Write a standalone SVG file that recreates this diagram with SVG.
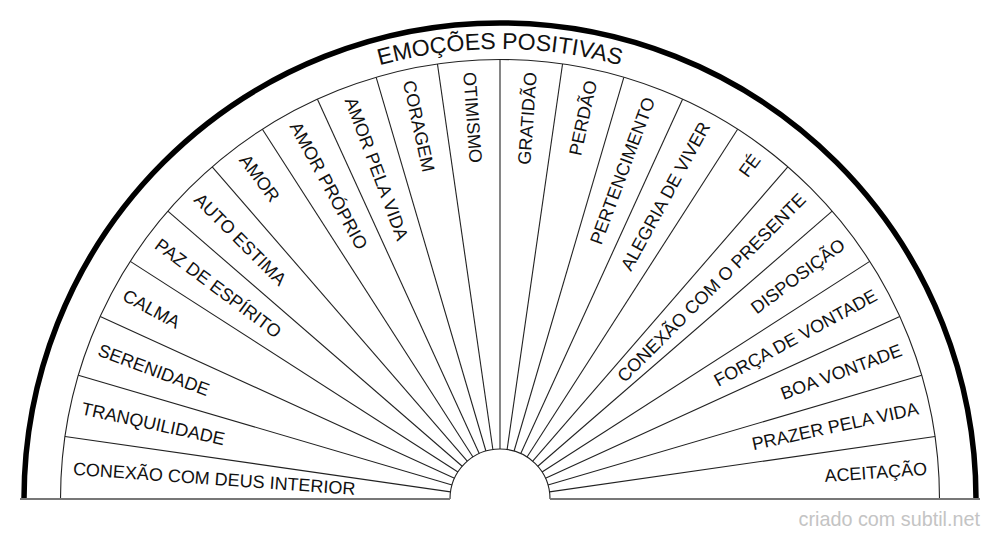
<svg xmlns="http://www.w3.org/2000/svg" xmlns:xlink="http://www.w3.org/1999/xlink" width="1000" height="540" viewBox="0 0 1000 540">
<style>
.lbl{font-family:"Liberation Sans",Arial,sans-serif;font-size:18px;fill:#111}
.div{stroke:#222;stroke-width:1.1;fill:none}
.title{font-family:"Liberation Sans",Arial,sans-serif;font-size:23px;fill:#111}
.foot{font-family:"Liberation Sans",Arial,sans-serif;font-size:19.8px;fill:#c4c4c4}
</style>
<defs>
<path id="titlePath" d="M 50 499 A 450 450 0 0 1 950 499"/>
</defs>
<rect width="1000" height="540" fill="#fff"/>
<g id="frame">
<path d="M 24 499 A 476 476 0 0 1 976 499" fill="none" stroke="#000" stroke-width="5.5"/>
<path d="M 60.5 499 A 439.5 439.5 0 0 1 939.5 499" fill="none" stroke="#222" stroke-width="1.1"/>
<path d="M 450 499 A 50 50 0 0 1 550 499" fill="#fff" stroke="#222" stroke-width="1.1"/>
<line x1="20" y1="499" x2="450" y2="499" stroke="#777" stroke-width="2"/>
<line x1="550" y1="499" x2="980" y2="499" stroke="#777" stroke-width="2"/>
</g>
<g id="connectors">
<line class="div" x1="450" y1="499" x2="60.5" y2="499" transform="rotate(8.1818 500 499)"/>
<line class="div" x1="450" y1="499" x2="60.5" y2="499" transform="rotate(16.3636 500 499)"/>
<line class="div" x1="450" y1="499" x2="60.5" y2="499" transform="rotate(24.5455 500 499)"/>
<line class="div" x1="450" y1="499" x2="60.5" y2="499" transform="rotate(32.7273 500 499)"/>
<line class="div" x1="450" y1="499" x2="60.5" y2="499" transform="rotate(40.9091 500 499)"/>
<line class="div" x1="450" y1="499" x2="60.5" y2="499" transform="rotate(49.0909 500 499)"/>
<line class="div" x1="450" y1="499" x2="60.5" y2="499" transform="rotate(57.2727 500 499)"/>
<line class="div" x1="450" y1="499" x2="60.5" y2="499" transform="rotate(65.4545 500 499)"/>
<line class="div" x1="450" y1="499" x2="60.5" y2="499" transform="rotate(73.6364 500 499)"/>
<line class="div" x1="450" y1="499" x2="60.5" y2="499" transform="rotate(81.8182 500 499)"/>
<line class="div" x1="450" y1="499" x2="60.5" y2="499" transform="rotate(90 500 499)" stroke="#666" stroke-width="1.6"/>
<line class="div" x1="450" y1="499" x2="60.5" y2="499" transform="rotate(98.1818 500 499)"/>
<line class="div" x1="450" y1="499" x2="60.5" y2="499" transform="rotate(106.3636 500 499)"/>
<line class="div" x1="450" y1="499" x2="60.5" y2="499" transform="rotate(114.5455 500 499)"/>
<line class="div" x1="450" y1="499" x2="60.5" y2="499" transform="rotate(122.7273 500 499)"/>
<line class="div" x1="450" y1="499" x2="60.5" y2="499" transform="rotate(130.9091 500 499)"/>
<line class="div" x1="450" y1="499" x2="60.5" y2="499" transform="rotate(139.0909 500 499)"/>
<line class="div" x1="450" y1="499" x2="60.5" y2="499" transform="rotate(147.2727 500 499)"/>
<line class="div" x1="450" y1="499" x2="60.5" y2="499" transform="rotate(155.4545 500 499)"/>
<line class="div" x1="450" y1="499" x2="60.5" y2="499" transform="rotate(163.6364 500 499)"/>
<line class="div" x1="450" y1="499" x2="60.5" y2="499" transform="rotate(171.8182 500 499)"/>
</g>
<g id="title"><text class="title" text-anchor="middle"><textPath href="#titlePath" xlink:href="#titlePath" startOffset="50%">EMOÇÕES POSITIVAS</textPath></text></g>
<g id="n0"><text class="lbl" x="72" y="499" dy="0.35em" transform="rotate(4.0909 500 499)">CONEXÃO COM DEUS INTERIOR</text></g>
<g id="n1"><text class="lbl" x="72" y="499" dy="0.35em" transform="rotate(12.2727 500 499)">TRANQUILIDADE</text></g>
<g id="n2"><text class="lbl" x="72" y="499" dy="0.35em" transform="rotate(20.4545 500 499)">SERENIDADE</text></g>
<g id="n3"><text class="lbl" x="72" y="499" dy="0.35em" transform="rotate(28.6364 500 499)">CALMA</text></g>
<g id="n4"><text class="lbl" x="72" y="499" dy="0.35em" transform="rotate(36.8182 500 499)">PAZ DE ESPÍRITO</text></g>
<g id="n5"><text class="lbl" x="72" y="499" dy="0.35em" transform="rotate(45 500 499)">AUTO ESTIMA</text></g>
<g id="n6"><text class="lbl" x="72" y="499" dy="0.35em" transform="rotate(53.1818 500 499)">AMOR</text></g>
<g id="n7"><text class="lbl" x="72" y="499" dy="0.35em" transform="rotate(61.3636 500 499)">AMOR PRÓPRIO</text></g>
<g id="n8"><text class="lbl" x="72" y="499" dy="0.35em" transform="rotate(69.5455 500 499)">AMOR PELA VIDA</text></g>
<g id="n9"><text class="lbl" x="72" y="499" dy="0.35em" transform="rotate(77.7273 500 499)">CORAGEM</text></g>
<g id="n10"><text class="lbl" x="72" y="499" dy="0.35em" transform="rotate(85.9091 500 499)">OTIMISMO</text></g>
<g id="n11"><text class="lbl" x="928" y="499" dy="0.35em" text-anchor="end" transform="rotate(-85.9091 500 499)">GRATIDÃO</text></g>
<g id="n12"><text class="lbl" x="928" y="499" dy="0.35em" text-anchor="end" transform="rotate(-77.7273 500 499)">PERDÃO</text></g>
<g id="n13"><text class="lbl" x="928" y="499" dy="0.35em" text-anchor="end" transform="rotate(-69.5455 500 499)">PERTENCIMENTO</text></g>
<g id="n14"><text class="lbl" x="928" y="499" dy="0.35em" text-anchor="end" transform="rotate(-61.3636 500 499)">ALEGRIA DE VIVER</text></g>
<g id="n15"><text class="lbl" x="928" y="499" dy="0.35em" text-anchor="end" transform="rotate(-53.1818 500 499)">FÉ</text></g>
<g id="n16"><text class="lbl" x="928" y="499" dy="0.35em" text-anchor="end" transform="rotate(-45 500 499)">CONEXÃO COM O PRESENTE</text></g>
<g id="n17"><text class="lbl" x="928" y="499" dy="0.35em" text-anchor="end" transform="rotate(-36.8182 500 499)">DISPOSIÇÃO</text></g>
<g id="n18"><text class="lbl" x="928" y="499" dy="0.35em" text-anchor="end" transform="rotate(-28.6364 500 499)">FORÇA DE VONTADE</text></g>
<g id="n19"><text class="lbl" x="928" y="499" dy="0.35em" text-anchor="end" transform="rotate(-20.4545 500 499)">BOA VONTADE</text></g>
<g id="n20"><text class="lbl" x="928" y="499" dy="0.35em" text-anchor="end" transform="rotate(-12.2727 500 499)">PRAZER PELA VIDA</text></g>
<g id="n21"><text class="lbl" x="928" y="499" dy="0.35em" text-anchor="end" transform="rotate(-4.0909 500 499)">ACEITAÇÃO</text></g>
<text class="foot" x="980" y="526" text-anchor="end">criado com subtil.net</text>
</svg>
